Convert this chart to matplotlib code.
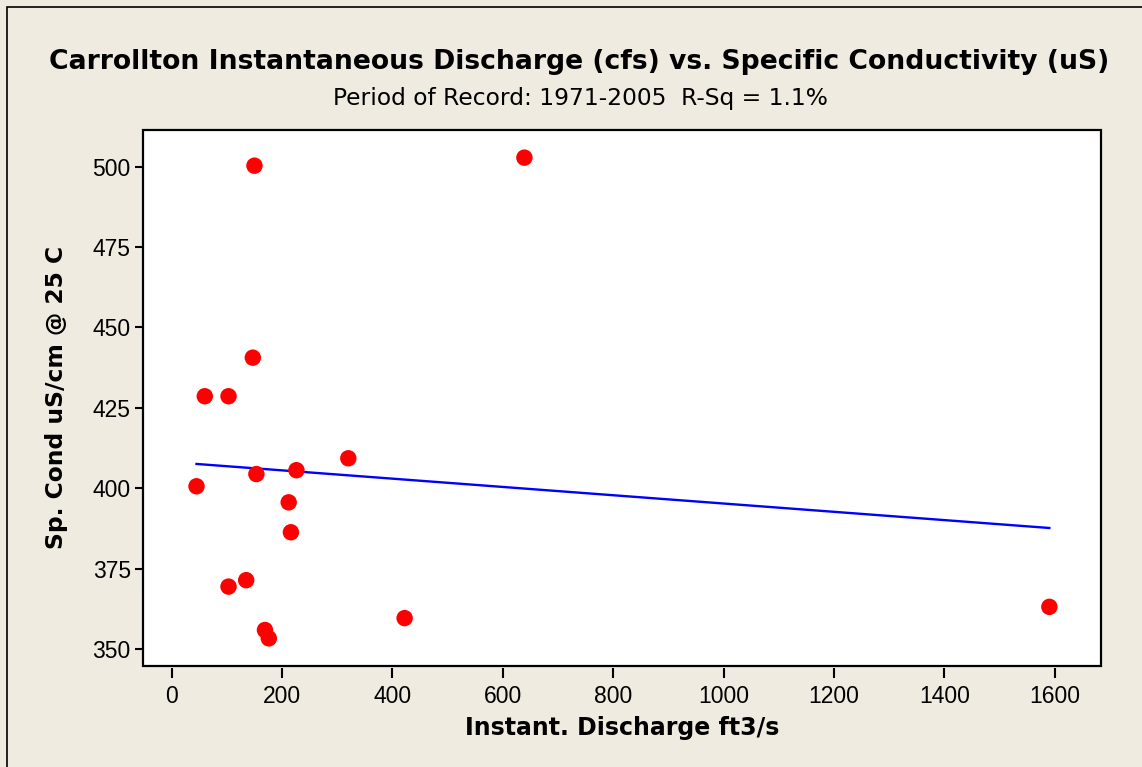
import numpy as np
import matplotlib
matplotlib.use("Agg")
import matplotlib.pyplot as plt
from matplotlib.patches import Rectangle

# Data
discharge = [150, 639, 147, 60, 103, 320, 153.5, 226, 45, 212, 216, 103, 135, 169, 176, 422, 1590]
conductivity = [500.3, 502.8, 440.6, 428.6, 428.6, 409.3, 404.4, 405.6, 400.6, 395.6, 386.3,
                369.4, 371.4, 355.9, 353.3, 359.6, 363.1]
x_ticks = [0, 200, 400, 600, 800, 1000, 1200, 1400, 1600]
y_ticks = [350, 375, 400, 425, 450, 475, 500]

title = "Carrollton Instantaneous Discharge (cfs) vs. Specific Conductivity (uS)"
subtitle = "Period of Record: 1971-2005  R-Sq = 1.1%"
xlabel = "Instant. Discharge ft3/s"
ylabel = "Sp. Cond uS/cm @ 25 C"

bg = "#EFEBE1"
W, H = 1142, 767
fig = plt.figure(figsize=(W / 100, H / 100), dpi=100, facecolor=bg)
plt.rcParams['font.family'] = ['DejaVu Sans']

ax_l, ax_r, ax_t, ax_b = 143.3, 1100.7, 130, 665.7
ax = fig.add_axes([ax_l / W, 1 - ax_b / H, (ax_r - ax_l) / W, (ax_b - ax_t) / H])
ax.set_facecolor("white")

x = np.array(discharge, dtype=float)
y = np.array(conductivity, dtype=float)
slope, intercept = np.polyfit(x, y, 1)
xl = np.array([x.min(), x.max()])
ax.plot(xl, intercept + slope * xl, color="#0000FF", lw=1.7, zorder=2)
ax.scatter(x, y, s=140, color="#FF0000", edgecolors="none", zorder=3)

ax.set_xlim(-51.4, 1683)
ax.set_ylim(344.8, 511.4)
ax.set_xticks(x_ticks)
ax.set_yticks(y_ticks)

for s in ax.spines.values():
    s.set_visible(False)
ax.spines['bottom'].set_position(('outward', 2))
ax.add_patch(Rectangle((0, 0), 1, 1, transform=ax.transAxes, fill=False,
                       edgecolor="black", lw=1.6, zorder=5, clip_on=False))

ax.tick_params(axis='x', direction='out', length=7, width=1.5, labelsize=16.5, pad=5)
ax.tick_params(axis='y', direction='out', length=6, width=1.5, labelsize=16.5, pad=3)
for lab in ax.get_xticklabels() + ax.get_yticklabels():
    lab.set_family(['Liberation Sans', 'DejaVu Sans'])

ax.set_xlabel(xlabel, fontsize=17, fontweight='bold', va='center')
ax.set_ylabel(ylabel, fontsize=16.8, fontweight='bold', va='center')
ax.xaxis.set_label_coords((622 - ax_l) / (ax_r - ax_l), (ax_b - 728) / (ax_b - ax_t))
ax.yaxis.set_label_coords((56 - ax_l) / (ax_r - ax_l), (ax_b - 397) / (ax_b - ax_t))

fig.text(579 / W, 1 - 62 / H, title, ha='center', va='center', fontsize=19.2, fontweight='bold')
fig.text(580 / W, 1 - 98 / H, subtitle, ha='center', va='center', fontsize=16.8)

# figure border (top and left visible, as in the cropped reference)
fig.add_artist(Rectangle((6.5 / W, -0.1), 1.2, 1 - 6.5 / H + 0.1, transform=fig.transFigure,
                         fill=False, edgecolor="black", lw=1.2))

fig.savefig("out.png", dpi=100, facecolor=bg)
